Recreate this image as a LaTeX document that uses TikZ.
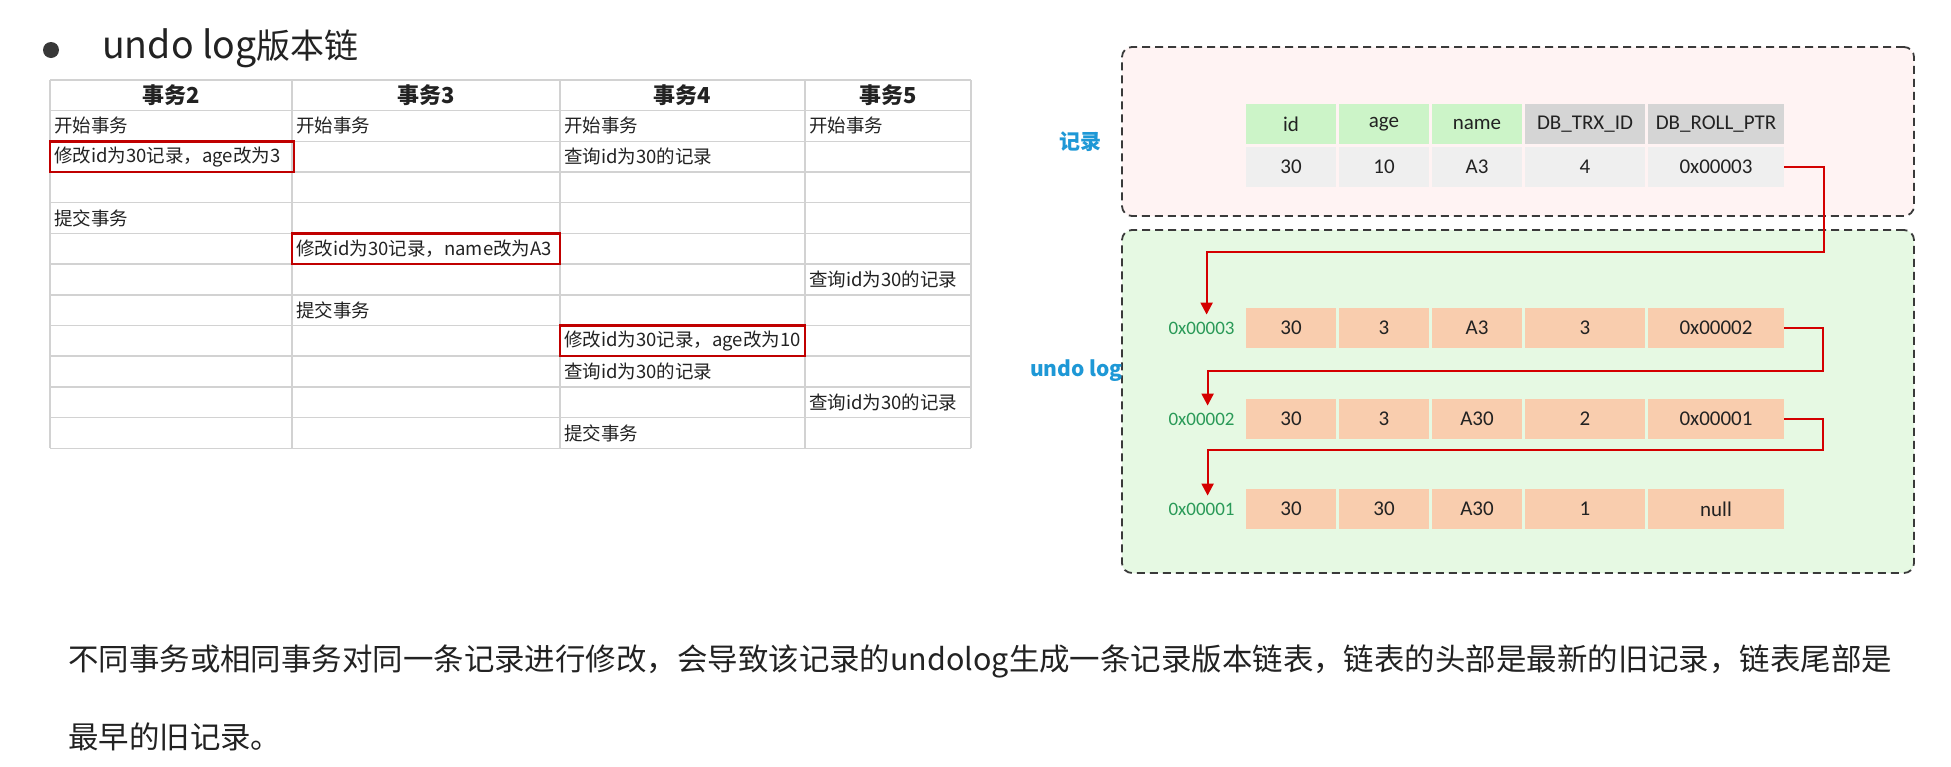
\documentclass[tikz,border=0pt]{standalone}
\usepackage{fontspec}
\setmainfont{Noto Sans CJK SC}
\newfontfamily\calfont{Carlito}
\usetikzlibrary{arrows.meta,positioning}

\definecolor{gridgray}{HTML}{D2D2D2}
\definecolor{boxred}{HTML}{C00000}
\definecolor{pinkbg}{HTML}{FFF3F3}
\definecolor{greenbg}{HTML}{E6F9E3}
\definecolor{hdrgreen}{HTML}{CCF4C8}
\definecolor{hdrgray}{HTML}{D5D5D5}
\definecolor{valgray}{HTML}{EFEFEF}
\definecolor{peach}{HTML}{F9CDAE}
\definecolor{lblblue}{HTML}{1E98D6}
\definecolor{addrgreen}{HTML}{2A9A58}
\definecolor{ptrred}{HTML}{D40000}
\definecolor{framegray}{HTML}{3A3A3A}
\definecolor{inkgray}{HTML}{222222}

\tikzset{
  grid/.style={draw=gridgray, line width=1.5},
  hdr/.style={inner sep=0, font=\bfseries\fontsize{22}{26}\selectfont, text=inkgray},
  cell/.style={anchor=west, inner xsep=4, inner ysep=0, font=\fontsize{18.5}{22}\selectfont, text=inkgray},
  redbox/.style={draw=boxred, line width=2.4, minimum height=30.7, inner sep=0},
  frame/.style={draw=framegray, line width=1.8, dash pattern=on 8pt off 5pt, rounded corners=10, inner sep=0},
  fld/.style={minimum height=40, inner sep=0, font=\calfont\fontsize{21}{24}\selectfont, text=inkgray},
  lbl/.style={inner sep=0, text=lblblue, font=\bfseries\fontsize{21}{24}\selectfont},
  addr/.style={inner sep=0, text=addrgreen, font=\calfont\fontsize{19}{22}\selectfont},
  ptr/.style={draw=ptrred, line width=2.2, -{Triangle[width=12pt,length=12pt]}, shorten >=7pt},
  para/.style={anchor=west, inner sep=0, text=inkgray, font=\fontsize{30.45}{34}\selectfont},
}

\begin{document}
\begin{tikzpicture}[x=1pt,y=-1pt]
\useasboundingbox[fill=white] (0,0) rectangle (1951,766);

% ---- heading ----
\fill[inkgray!90] (51,50) circle (8) coordinate (dot);
\node[anchor=west, inner sep=0, text=inkgray, font=\fontsize{34}{40}\selectfont] (title) at (102,48) {{\fontsize{37.5}{40}\selectfont undo log}版本链};

% ---- transaction timeline table ----
\foreach \x in {50,292,560,805,971} \draw[grid] (\x,80) -- (\x,448.3);
\draw[grid] (50,80) -- (971,80);
\foreach \i in {0,...,11} \draw[grid] (50,110.6+\i*30.7) -- (971,110.6+\i*30.7);

\node[hdr] (h2) at (171,95) {事务2};
\node[hdr] (h3) at (426,95) {事务3};
\node[hdr] (h4) at (682.5,95) {事务4};
\node[hdr] (h5) at (888,95) {事务5};

% red outlines on the modifying steps
\node[redbox, minimum width=244] (rb1) at (172,156.65) {};
\node[redbox, minimum width=268] (rb2) at (426,248.75) {};
\node[redbox, minimum width=245] (rb3) at (682.5,340.85) {};

\node[cell] (t1a) at (50,125.95) {开始事务};
\node[cell] (t1b) at (292,125.95) {开始事务};
\node[cell] (t1c) at (560,125.95) {开始事务};
\node[cell] (t1d) at (805,125.95) {开始事务};
\node[cell] (t2a) at (50,156.65) {修改id为30记录，age改为3};
\node[cell] (t2c) at (560,156.65) {查询id为30的记录};
\node[cell] (t4a) at (50,218.05) {提交事务};
\node[cell] (t5b) at (292,248.75) {修改id为30记录，name改为A3};
\node[cell] (t6d) at (805,279.45) {查询id为30的记录};
\node[cell] (t7b) at (292,310.15) {提交事务};
\node[cell] (t8c) at (560,340.85) {修改id为30记录，age改为10};
\node[cell] (t9c) at (560,371.55) {查询id为30的记录};
\node[cell] (t10d) at (805,402.25) {查询id为30的记录};
\node[cell] (t11c) at (560,432.95) {提交事务};

% ---- current record and its undo log chain ----
\node[frame, fill=pinkbg, minimum width=792, minimum height=169] (recbox) at (1518,131.5) {};
\node[frame, fill=greenbg, minimum width=792, minimum height=343] (undobox) at (1518,401.5) {};

\node[lbl] (reclbl) at (1080,142) {记录};
\node[lbl] (undolbl) at (1076.5,371) {undo log};

% record header
\node[fld, fill=hdrgreen, minimum width=90] (rh1) at (1291,124) {id};
\node[fld, fill=hdrgreen, minimum width=90] (rh2) at (1384,124) {age};
\node[fld, fill=hdrgreen, minimum width=90] (rh3) at (1477,124) {name};
\node[fld, fill=hdrgray, minimum width=120] (rh4) at (1585,124) {DB\_TRX\_ID};
\node[fld, fill=hdrgray, minimum width=136] (rh5) at (1716,124) {DB\_ROLL\_PTR};
% record values
\node[fld, fill=valgray, minimum width=90] (rv1) at (1291,167) {30};
\node[fld, fill=valgray, minimum width=90] (rv2) at (1384,167) {10};
\node[fld, fill=valgray, minimum width=90] (rv3) at (1477,167) {A3};
\node[fld, fill=valgray, minimum width=120] (rv4) at (1585,167) {4};
\node[fld, fill=valgray, minimum width=136] (rv5) at (1716,167) {0x00003};

% undo log entries
\foreach \r/\y/\a/\b/\c/\d/\e in {1/328/30/3/A3/3/0x00002, 2/419/30/3/A30/2/0x00001, 3/509/30/30/A30/1/null}{
  \node[fld, fill=peach, minimum width=90] (u\r c1) at (1291,\y) {\a};
  \node[fld, fill=peach, minimum width=90] (u\r c2) at (1384,\y) {\b};
  \node[fld, fill=peach, minimum width=90] (u\r c3) at (1477,\y) {\c};
  \node[fld, fill=peach, minimum width=120] (u\r c4) at (1585,\y) {\d};
  \node[fld, fill=peach, minimum width=136] (u\r c5) at (1716,\y) {\e};
}

\node[addr, left=11 of u1c1] (a3) {0x00003};
\node[addr, left=11 of u2c1] (a2) {0x00002};
\node[addr, left=11 of u3c1] (a1) {0x00001};

% roll pointers
\draw[ptr] (rv5.east) -- ++(40,0) -- ++(0,85) -| ([xshift=5]a3.north);
\draw[ptr] (u1c5.east) -- ++(39,0) -- ++(0,43) -| ([xshift=6]a2.north);
\draw[ptr] (u2c5.east) -- ++(39,0) -- ++(0,31) -| ([xshift=6]a1.north);

% ---- explanation ----
\node[para] (p1) at (68,661) {不同事务或相同事务对同一条记录进行修改，会导致该记录的undolog生成一条记录版本链表，链表的头部是最新的旧记录，链表尾部是};
\node[para] (p2) at (68,737) {最早的旧记录。};
\end{tikzpicture}
\end{document}
